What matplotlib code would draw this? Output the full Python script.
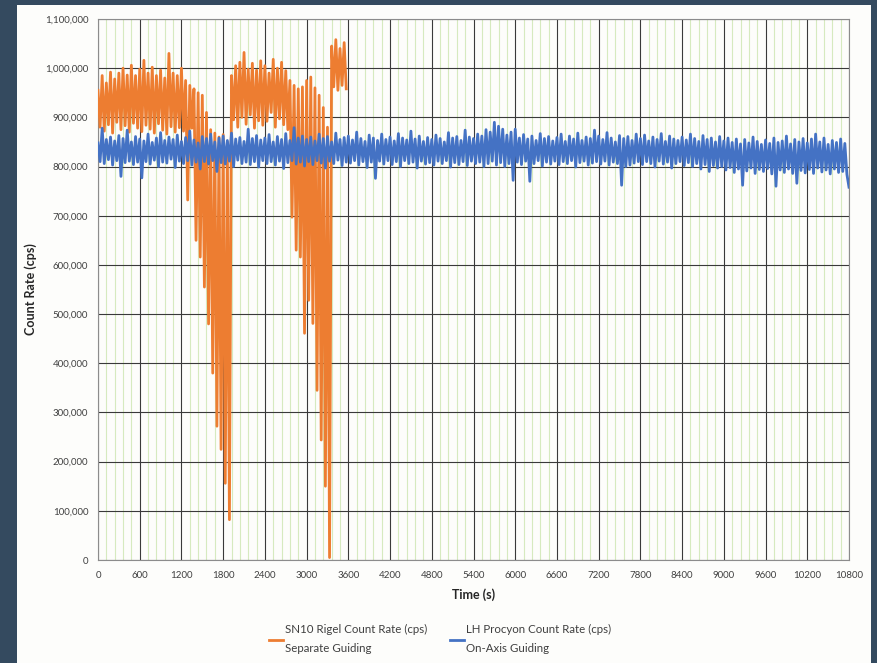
import numpy as np
import matplotlib
matplotlib.use("Agg")
import matplotlib.pyplot as plt
from matplotlib.patches import Rectangle
from matplotlib.ticker import MultipleLocator, FuncFormatter

plt.rcParams["font.family"] = ["Lato", "DejaVu Sans"]

# one reading every 30 s, starting at t = 0; values in thousands of cps
sample_step = 30

# SN10 Rigel, separate guiding (0 - 3570 s)
rigel_kcps = [
    955, 880, 985, 872, 970, 885, 992, 868, 978, 890, 990, 875, 1000, 883, 986, 870, 1006, 888, 985, 878,
    998, 871, 1016, 884, 990, 876, 1002, 868, 985, 887, 996, 874, 980, 866, 1030, 881, 990, 870, 985, 879,
    1000, 872, 975, 732, 965, 878, 958, 650, 950, 616, 945, 555, 910, 480, 875, 380, 868, 272, 860, 225,
    865, 156, 850, 82, 985, 895, 1005, 880, 1012, 900, 1032, 886, 998, 905, 1010, 878, 996, 893, 1015, 884,
    1005, 892, 990, 910, 1018, 880, 1000, 897, 1012, 885, 995, 875, 975, 697, 965, 630, 958, 616, 962, 461,
    975, 528, 982, 481, 960, 345, 945, 244, 920, 150, 880, 5, 1045, 962, 1058, 955, 1040, 965, 1052, 958,
]

# LH Procyon, on-axis guiding (0 - 10800 s)
procyon_kcps = [
    848, 810, 878, 806, 855, 814, 860, 803, 852, 812, 863, 780, 857, 808, 874, 811, 850, 804, 861, 809,
    856, 777, 852, 810, 866, 805, 849, 813, 858, 800, 869, 809, 853, 807, 860, 815, 855, 798, 864, 811,
    851, 806, 859, 812, 872, 803, 854, 809, 848, 795, 861, 810, 857, 805, 866, 812, 850, 790, 858, 808,
    862, 805, 853, 811, 868, 800, 856, 813, 859, 806, 851, 809, 876, 804, 857, 810, 863, 799, 854, 812,
    858, 806, 865, 810, 850, 803, 861, 811, 855, 796, 867, 808, 853, 812, 879, 805, 858, 809, 862, 801,
    855, 810, 860, 804, 852, 812, 866, 807, 857, 797, 861, 811, 850, 806, 868, 813, 855, 802, 859, 809,
    862, 807, 854, 812, 870, 803, 857, 810, 851, 798, 864, 809, 858, 776, 853, 811, 866, 805, 855, 812,
    860, 804, 852, 810, 867, 800, 858, 812, 854, 806, 872, 809, 856, 797, 862, 811, 851, 805, 859, 808,
    855, 803, 864, 811, 857, 806, 850, 812, 869, 799, 858, 808, 861, 804, 853, 810, 874, 802, 860, 811,
    857, 806, 866, 809, 862, 800, 875, 806, 870, 811, 890, 803, 882, 808, 876, 800, 864, 806, 870, 772,
    876, 809, 858, 804, 865, 811, 856, 770, 862, 806, 853, 812, 867, 801, 857, 809, 861, 805, 852, 811,
    859, 804, 866, 810, 851, 806, 862, 812, 856, 799, 868, 808, 853, 811, 860, 803, 857, 807, 874, 810,
    862, 805, 855, 811, 869, 803, 858, 809, 850, 806, 863, 762, 857, 800, 861, 803, 853, 807, 866, 810,
    857, 804, 864, 810, 852, 806, 860, 799, 855, 811, 867, 805, 851, 809, 862, 797, 856, 806, 853, 810,
    860, 802, 854, 808, 866, 800, 857, 806, 851, 795, 863, 804, 855, 790, 858, 802, 850, 797, 861, 800,
    852, 793, 858, 798, 849, 788, 856, 795, 846, 762, 855, 791, 848, 797, 860, 786, 851, 794, 845, 790,
    854, 796, 847, 785, 858, 760, 849, 793, 852, 788, 862, 795, 846, 786, 855, 766, 850, 792, 857, 787,
    848, 794, 856, 786, 866, 797, 850, 789, 858, 793, 845, 785, 853, 795, 849, 788, 856, 790, 847, 784,
    758,
]

x_ticks = list(range(0, 10801, 600))
y_ticks = list(range(0, 1100001, 100000))

rigel_label = "SN10 Rigel Count Rate (cps)\nSeparate Guiding"
procyon_label = "LH Procyon Count Rate (cps)\nOn-Axis Guiding"

ORANGE = "#ed7d31"
BLUE = "#4472c4"

fig = plt.figure(figsize=(8.77, 6.63), dpi=100, facecolor="#344a5f")
panel = Rectangle((17 / 877, 0), 854 / 877, 658 / 663, transform=fig.transFigure,
                  facecolor="#fdfdfb", edgecolor="none", zorder=-10)
fig.patches.append(panel)

ax = fig.add_axes([98 / 877, 1 - 560 / 663, 751 / 877, 541 / 663])
ax.set_facecolor("#fdfdfb")

t_rigel = np.arange(len(rigel_kcps)) * sample_step
t_procyon = np.arange(len(procyon_kcps)) * sample_step
ax.plot(t_rigel, np.array(rigel_kcps) * 1000, color=ORANGE, lw=2.0,
        solid_joinstyle="round", label=rigel_label, zorder=3)
ax.plot(t_procyon, np.array(procyon_kcps) * 1000, color=BLUE, lw=2.0,
        solid_joinstyle="round", label=procyon_label, zorder=4)

ax.set_xlim(x_ticks[0], x_ticks[-1])
ax.set_ylim(y_ticks[0], y_ticks[-1])
ax.set_xticks(x_ticks)
ax.set_yticks(y_ticks)
ax.xaxis.set_minor_locator(MultipleLocator(120))
ax.yaxis.set_major_formatter(FuncFormatter(lambda v, p: f"{int(v):,}"))

ax.set_axisbelow(True)
ax.grid(which="minor", axis="x", color="#d6eabf", lw=0.8)
ax.grid(which="major", color="#3a3a3a", lw=0.8)
for s in ax.spines.values():
    s.set_color("#8c8c8c")
    s.set_linewidth(0.8)

ax.tick_params(which="both", length=0, labelsize=7, colors="#404040")
ax.tick_params(axis="x", pad=8)
ax.tick_params(axis="y", pad=7)

ax.set_xlabel("Time (s)", fontsize=9, fontweight="bold", color="#262626", labelpad=6)
ax.set_ylabel("Count Rate (cps)", fontsize=9, fontweight="bold", color="#262626")
ax.yaxis.set_label_coords(-0.081, 0.5)

leg = fig.legend(loc="center", bbox_to_anchor=(0.502, 0.036), ncol=2, frameon=False,
                 fontsize=8.3, handlelength=1.2, handletextpad=0.2, columnspacing=2.0,
                 labelcolor="#404040")
for txt in leg.get_texts():
    txt.set_linespacing(1.9)

fig.savefig("out.png", dpi=100, facecolor=fig.get_facecolor())
